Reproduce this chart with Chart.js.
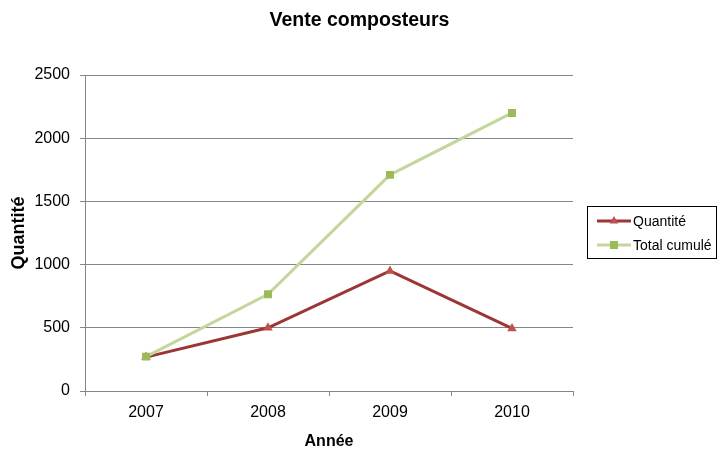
<!DOCTYPE html>
<html>
<head>
<meta charset="utf-8">
<script src="https://cdn.jsdelivr.net/npm/chart.js@4"></script>
<style>
  html, body { margin: 0; padding: 0; background: #fff; }
  #wrap { width: 719px; height: 451px; }
</style>
</head>
<body>
<div id="wrap"><canvas id="c" width="719" height="451"></canvas></div>
<script>
const years = ['2007', '2008', '2009', '2010'];
const quantite = [268, 500, 950, 495];
const totalCumule = [272, 765, 1710, 2200];
const seriesNames = ['Quantité', 'Total cumulé'];
const chartTitle = 'Vente composteurs';
const xTitle = 'Année';
const yTitle = 'Quantité';

const FONT = "'Liberation Sans', Arial, sans-serif";
const AXIS = '#868686';

const titleLegendPlugin = {
  id: 'excelTitleLegend',
  afterDraw(chart) {
    const ctx = chart.ctx;
    ctx.save();
    // chart title centred on the whole canvas
    ctx.fillStyle = '#000';
    ctx.font = 'bold 19.5px ' + FONT;
    ctx.textAlign = 'center';
    ctx.textBaseline = 'alphabetic';
    ctx.fillText(chartTitle, chart.width / 2, 26);

    // legend box
    ctx.strokeStyle = '#000';
    ctx.lineWidth = 1;
    ctx.strokeRect(587.5, 206.5, 129, 52);
    const ys = [221, 245];
    chart.data.datasets.forEach((ds) => {
      const y = ys[ds.legendIndex];
      ctx.strokeStyle = ds.borderColor;
      ctx.lineWidth = 3;
      ctx.beginPath();
      ctx.moveTo(597, y);
      ctx.lineTo(631, y);
      ctx.stroke();
      ctx.fillStyle = ds.pointBackgroundColor;
      ctx.beginPath();
      if (ds.pointStyle === 'triangle') {
        const r = 5;
        ctx.moveTo(614, y - r);
        ctx.lineTo(614 + r * 0.866, y + r * 0.5);
        ctx.lineTo(614 - r * 0.866, y + r * 0.5);
        ctx.closePath();
      } else {
        ctx.rect(610, y - 4, 8, 8);
      }
      ctx.fill();
      ctx.fillStyle = '#000';
      ctx.font = '14px ' + FONT;
      ctx.textBaseline = 'middle';
      ctx.textAlign = 'left';
      ctx.fillText(ds.label, 633, y + 1);
    });
    ctx.restore();
  }
};

new Chart(document.getElementById('c'), {
  type: 'line',
  data: {
    labels: years,
    datasets: [
      {
        label: seriesNames[1],
        legendIndex: 1,
        data: totalCumule,
        borderColor: '#C3D69B',
        backgroundColor: '#9BBB59',
        pointBackgroundColor: '#9BBB59',
        pointBorderColor: '#9BBB59',
        pointStyle: 'rect',
        pointRadius: 5.6,
        pointBorderWidth: 0,
        borderWidth: 3,
        tension: 0
      },
      {
        label: seriesNames[0],
        legendIndex: 0,
        data: quantite,
        borderColor: '#9B3634',
        backgroundColor: '#C0504D',
        pointBackgroundColor: '#C0504D',
        pointBorderColor: '#C0504D',
        pointStyle: 'triangle',
        pointRadius: 5.5,
        pointBorderWidth: 0,
        borderWidth: 3,
        tension: 0
      }
    ]
  },
  options: {
    responsive: false,
    animation: false,
    devicePixelRatio: 1,
    layout: { padding: { left: 0, right: 146, top: 75, bottom: 0 } },
    plugins: {
      legend: { display: false },
      tooltip: { enabled: false },
      title: { display: false }
    },
    scales: {
      x: {
        type: 'category',
        offset: true,
        grid: {
          offset: true,
          drawOnChartArea: false,
          drawTicks: true,
          tickLength: 5,
          color: AXIS
        },
        border: { display: true, color: AXIS, width: 1 },
        ticks: {
          color: '#000',
          font: { family: FONT, size: 16 },
          padding: 7,
          maxRotation: 0
        },
        title: {
          display: true,
          text: xTitle,
          color: '#000',
          font: { family: FONT, size: 16, weight: 'bold' },
          padding: { top: 0, bottom: 0 }
        },
        afterFit(scale) { scale.height = 60; }
      },
      y: {
        min: 0,
        max: 2500,
        ticks: {
          stepSize: 500,
          color: '#000',
          font: { family: FONT, size: 16 },
          padding: 10,
          callback: (v) => String(v)
        },
        grid: {
          color: AXIS,
          lineWidth: 1,
          drawTicks: true,
          tickLength: 5
        },
        border: { display: true, color: AXIS, width: 1 },
        title: {
          display: true,
          text: yTitle,
          color: '#000',
          font: { family: FONT, size: 18, weight: 'bold' },
          padding: { top: 8, bottom: 0 }
        },
        afterFit(scale) { scale.width = 85; }
      }
    }
  },
  plugins: [titleLegendPlugin]
});
</script>
</body>
</html>
